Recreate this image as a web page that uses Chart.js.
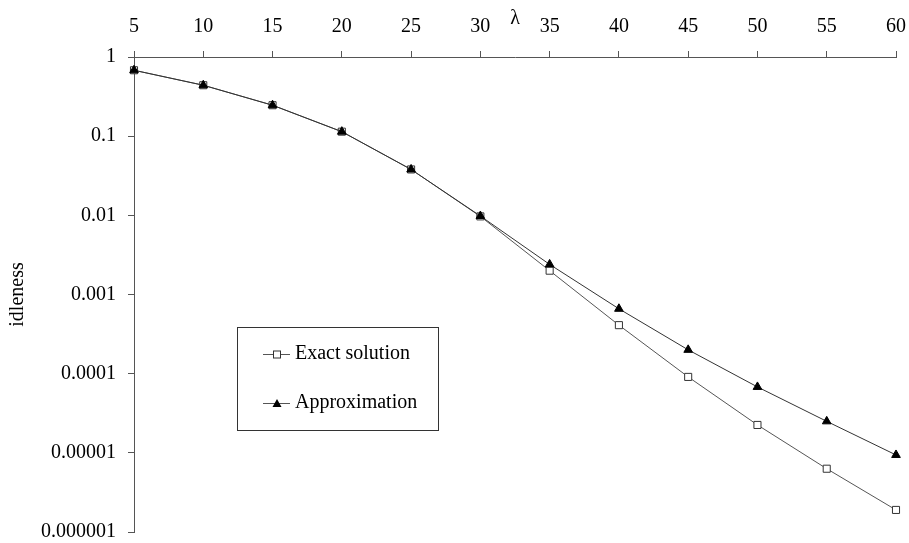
<!DOCTYPE html>
<html>
<head>
<meta charset="utf-8">
<script src="https://cdn.jsdelivr.net/npm/chart.js@4.4.1/dist/chart.umd.min.js"></script>
<style>
  html, body { margin: 0; padding: 0; background: #fff; }
  #wrap { width: 909px; height: 543px; }
</style>
</head>
<body>
<div id="wrap"><canvas id="chart"></canvas></div>
<script>
// lambda values along the top axis
var lambdas = ['5', '10', '15', '20', '25', '30', '35', '40', '45', '50', '55', '60'];

// idleness
var exactSolution = [0.68, 0.44, 0.246, 0.114, 0.038, 0.0097, 0.0020, 0.00041, 0.000091, 0.0000225, 0.0000063, 0.0000019];
var approximation = [0.68, 0.44, 0.246, 0.114, 0.038, 0.0098, 0.0024, 0.00066, 0.00020, 0.000068, 0.000025, 0.0000094];

var yTicks = [1, 0.1, 0.01, 0.001, 0.0001, 0.00001, 0.000001];

var FONT = 'Liberation Serif, Times New Roman, serif';
var AXIS = '#555';

// legend drawn inside the plot, like the original
var boxLegend = {
    id: 'boxLegend',
    afterDraw: function(chart) {
        var ctx = chart.ctx;
        var a = chart.chartArea;
        var x0 = a.left + 103, y0 = 327, w = 201, h = 103;
        ctx.save();
        ctx.strokeStyle = '#333';
        ctx.lineWidth = 1;
        ctx.strokeRect(x0 + 0.5, y0 + 0.5, w, h);

        ctx.font = '20px ' + FONT;
        ctx.fillStyle = '#000';
        ctx.textBaseline = 'middle';

        var rows = [
            { y: y0 + 27, text: 'Exact solution', kind: 'rect' },
            { y: y0 + 76, text: 'Approximation', kind: 'tri' }
        ];
        rows.forEach(function(r) {
            var lx = x0 + 26, rx = x0 + 53, mx = x0 + 40;
            ctx.strokeStyle = AXIS;
            ctx.beginPath();
            ctx.moveTo(lx, r.y + 0.5);
            ctx.lineTo(rx, r.y + 0.5);
            ctx.stroke();
            if (r.kind === 'rect') {
                ctx.fillStyle = '#fff';
                ctx.strokeStyle = '#333';
                ctx.fillRect(mx - 3.5, r.y - 3, 7, 7);
                ctx.strokeRect(mx - 3.5, r.y - 3, 7, 7);
            } else {
                ctx.fillStyle = '#000';
                ctx.beginPath();
                ctx.moveTo(mx, r.y - 4);
                ctx.lineTo(mx + 4.5, r.y + 4);
                ctx.lineTo(mx - 4.5, r.y + 4);
                ctx.closePath();
                ctx.fill();
            }
            ctx.fillStyle = '#000';
            ctx.fillText(r.text, x0 + 58, r.y);
        });
        ctx.restore();
    }
};

var ctx = document.getElementById('chart').getContext('2d');
var chart = new Chart(ctx, {
    type: 'line',
    data: {
        labels: lambdas,
        datasets: [{
            label: 'Exact solution',
            data: exactSolution,
            borderColor: '#555',
            borderWidth: 1,
            pointStyle: 'rect',
            pointRadius: 5,
            pointBackgroundColor: '#fff',
            pointBorderColor: '#333',
            pointBorderWidth: 1,
            tension: 0,
            order: 2
        }, {
            label: 'Approximation',
            data: approximation,
            borderColor: '#333',
            borderWidth: 1,
            pointStyle: 'triangle',
            pointRadius: 5,
            pointBackgroundColor: '#000',
            pointBorderColor: '#000',
            pointBorderWidth: 1,
            tension: 0,
            order: 1
        }]
    },
    options: {
        responsive: true,
        maintainAspectRatio: false,
        animation: false,
        layout: { padding: { left: 0, top: 0, right: 13, bottom: 11 } },
        plugins: {
            legend: { display: false },
            tooltip: { enabled: false }
        },
        scales: {
            x: {
                position: 'top',
                offset: false,
                grid: { drawOnChartArea: false, color: AXIS, tickLength: 6 },
                border: { display: true, color: AXIS, width: 1 },
                ticks: {
                    autoSkip: false,
                    maxRotation: 0,
                    padding: 12,
                    color: '#000',
                    font: { family: FONT, size: 20 }
                },
                title: {
                    display: true,
                    text: 'λ',
                    color: '#000',
                    padding: { top: 7, bottom: 0 },
                    font: { family: FONT, size: 20 }
                },
                afterFit: function(scale) {
                    scale.height = 57;
                    scale.paddingLeft = 0;
                    scale.paddingRight = 0;
                }
            },
            y: {
                type: 'logarithmic',
                min: 0.000001,
                max: 1,
                grid: { drawOnChartArea: false, color: AXIS, tickLength: 6 },
                border: { display: true, color: AXIS, width: 1 },
                afterBuildTicks: function(scale) {
                    scale.ticks = yTicks.map(function(v) { return { value: v }; });
                },
                ticks: {
                    padding: 12,
                    color: '#000',
                    font: { family: FONT, size: 20 },
                    callback: function(v) { return String(v); }
                },
                title: {
                    display: true,
                    text: 'idleness',
                    color: '#000',
                    padding: { top: 6, bottom: 0 },
                    font: { family: FONT, size: 20 }
                },
                afterFit: function(scale) {
                    scale.width = 134;
                    scale.paddingTop = 0;
                    scale.paddingBottom = 0;
                }
            }
        }
    },
    plugins: [boxLegend]
});
</script>
</body>
</html>
